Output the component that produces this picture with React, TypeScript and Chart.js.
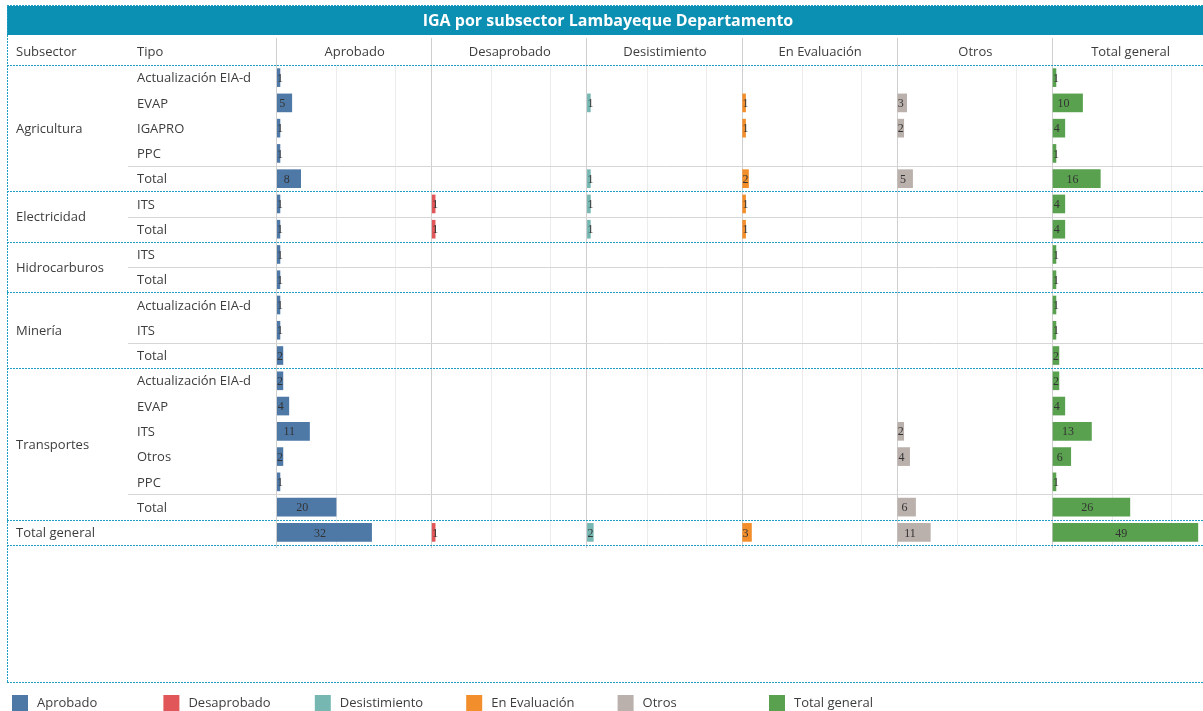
import React, { useEffect, useRef } from "react";
import { Chart, registerables } from "chart.js";

Chart.register(...registerables);

// ---------- DATA ----------
const chartTitle = "IGA por subsector Lambayeque Departamento";
const headerSubsector = "Subsector";
const headerTipo = "Tipo";
const estados = ["Aprobado", "Desaprobado", "Desistimiento", "En Evaluación", "Otros", "Total general"];
const estadoColors = ["#4e79a7", "#e15759", "#76b7b2", "#f28e2b", "#bab0ac", "#59a14f"];
const subsectors = ["Agricultura", "Electricidad", "Hidrocarburos", "Minería", "Transportes", "Total general"];
const groupSizes = [5, 2, 2, 3, 6, 1];
const tipos = [
  "Actualización EIA-d", "EVAP", "IGAPRO", "PPC", "Total",
  "ITS", "Total",
  "ITS", "Total",
  "Actualización EIA-d", "ITS", "Total",
  "Actualización EIA-d", "EVAP", "ITS", "Otros", "PPC", "Total",
  "",
];
const N = null;
const aprobado = [1, 5, 1, 1, 8, 1, 1, 1, 1, 1, 1, 2, 2, 4, 11, 2, 1, 20, 32];
const desaprobado = [N, N, N, N, N, 1, 1, N, N, N, N, N, N, N, N, N, N, N, 1];
const desistimiento = [N, 1, N, N, 1, 1, 1, N, N, N, N, N, N, N, N, N, N, N, 2];
const enEvaluacion = [N, 1, 1, N, 2, 1, 1, N, N, N, N, N, N, N, N, N, N, N, 3];
const otros = [N, 3, 2, N, 5, N, N, N, N, N, N, N, N, N, 2, 4, N, 6, 11];
const totalGeneral = [1, 10, 4, 1, 16, 4, 4, 1, 1, 1, 1, 2, 2, 4, 13, 6, 1, 26, 49];
const seriesValues = [aprobado, desaprobado, desistimiento, enEvaluacion, otros, totalGeneral];
const gridTicks = [20, 40];

// ---------- LAYOUT ----------
const W = 1203;
const H = 711;
const PANEL_SPAN = 52.5; // axis units per panel
const PLOT_LEFT = 277;
const PLOT_TOP = 65;
const PLOT_BOTTOM = 545;
const PANEL_PX = 155.2;
const X_MAX = (PANEL_SPAN * (W - PLOT_LEFT)) / PANEL_PX;
const FONT = "'Open Sans', sans-serif";
const TEXT = "#3d3d3d";
const TEAL = "#1f9dc2";

function hDotted(ctx: CanvasRenderingContext2D, x1: number, x2: number, y: number) {
  ctx.save();
  ctx.strokeStyle = TEAL;
  ctx.lineWidth = 1;
  ctx.setLineDash([2, 1]);
  ctx.beginPath();
  ctx.moveTo(x1, Math.round(y) + 0.5);
  ctx.lineTo(x2, Math.round(y) + 0.5);
  ctx.stroke();
  ctx.restore();
}
function vDotted(ctx: CanvasRenderingContext2D, x: number, y1: number, y2: number) {
  ctx.save();
  ctx.strokeStyle = TEAL;
  ctx.lineWidth = 1;
  ctx.setLineDash([2, 1]);
  ctx.beginPath();
  ctx.moveTo(Math.round(x) + 0.5, y1);
  ctx.lineTo(Math.round(x) + 0.5, y2);
  ctx.stroke();
  ctx.restore();
}
function line(ctx: CanvasRenderingContext2D, x1: number, y1: number, x2: number, y2: number, color: string) {
  ctx.save();
  ctx.strokeStyle = color;
  ctx.lineWidth = 1;
  ctx.beginPath();
  ctx.moveTo(x1, y1);
  ctx.lineTo(x2, y2);
  ctx.stroke();
  ctx.restore();
}

const tablePlugin = {
  id: "tablePlugin",
  beforeDraw(chart: any) {
    const ctx: CanvasRenderingContext2D = chart.ctx;
    const xs = chart.scales.x;
    const ys = chart.scales.y;
    ctx.save();
    ctx.fillStyle = "#ffffff";
    ctx.fillRect(0, 0, W, H);

    // title bar
    ctx.fillStyle = "#0b8fb2";
    ctx.fillRect(7, 6, W - 7, 29);
    hDotted(ctx, 7, W, 5);
    ctx.fillStyle = "#ffffff";
    ctx.font = `bold 16px ${FONT}`;
    ctx.textAlign = "center";
    ctx.textBaseline = "middle";
    ctx.fillText(chartTitle, 608, 21);

    // outer border
    vDotted(ctx, 7, 5, 683);
    hDotted(ctx, 7, W, 682);

    const rowH = ys.getPixelForValue(1) - ys.getPixelForValue(0);
    const rowTop = (i: number) => ys.getPixelForValue(i) - rowH / 2;

    // grid lines
    for (let k = 0; k < estados.length; k++) {
      for (const t of gridTicks) {
        const gx = Math.round(xs.getPixelForValue(k * PANEL_SPAN + t)) + 0.5;
        line(ctx, gx, PLOT_TOP, gx, PLOT_BOTTOM, "#ececec");
      }
    }
    for (let k = 0; k < estados.length; k++) {
      const px = Math.round(xs.getPixelForValue(k * PANEL_SPAN)) - 0.5;
      line(ctx, px, 38, px, PLOT_BOTTOM + 3, "#cfcfcf");
    }

    // headers
    ctx.font = `13px ${FONT}`;
    ctx.fillStyle = TEXT;
    ctx.textBaseline = "middle";
    ctx.textAlign = "left";
    ctx.fillText(headerSubsector, 16, 52);
    ctx.fillText(headerTipo, 137, 52);
    ctx.textAlign = "center";
    estados.forEach((e, k) => {
      const cx = (xs.getPixelForValue(k * PANEL_SPAN) + xs.getPixelForValue((k + 1) * PANEL_SPAN)) / 2;
      ctx.fillText(e, cx, 52);
    });

    // rows
    let start = 0;
    subsectors.forEach((s, g) => {
      const n = groupSizes[g];
      const yTop = rowTop(start);
      const yMid = yTop + (n * rowH) / 2;
      ctx.textAlign = "left";
      ctx.fillStyle = TEXT;
      ctx.fillText(s, 16, yMid + 1);
      for (let i = start; i < start + n; i++) {
        if (tipos[i]) ctx.fillText(tipos[i], 137, ys.getPixelForValue(i) + 1);
        if (tipos[i] === "Total") {
          const ly = Math.round(rowTop(i)) + 0.5;
          line(ctx, 128, ly, W, ly, "#d6d6d6");
        }
      }
      hDotted(ctx, 7, W, yTop);
      start += n;
    });
    hDotted(ctx, 7, W, rowTop(start));
    ctx.restore();
  },
  afterDatasetsDraw(chart: any) {
    const ctx: CanvasRenderingContext2D = chart.ctx;
    ctx.save();
    ctx.font = `12px 'Liberation Serif', serif`;
    ctx.fillStyle = "#333333";
    ctx.textBaseline = "middle";
    ctx.textAlign = "left";
    chart.data.datasets.forEach((ds: any, di: number) => {
      const meta = chart.getDatasetMeta(di);
      meta.data.forEach((el: any, i: number) => {
        const v = seriesValues[di][i];
        if (v == null) return;
        const s = String(v);
        const tw = ctx.measureText(s).width;
        const x0 = Math.min(el.base, el.x);
        const x1 = Math.max(el.base, el.x);
        const cx = (x0 + x1) / 2;
        const lx = Math.max(x0, cx - 0.85 * tw);
        ctx.fillText(s, lx, el.y + 1);
      });
    });
    ctx.restore();
  },
  afterDraw(chart: any) {
    const ctx: CanvasRenderingContext2D = chart.ctx;
    ctx.save();
    ctx.font = `13px ${FONT}`;
    ctx.textBaseline = "middle";
    ctx.textAlign = "left";
    estados.forEach((e, k) => {
      const x = 12 + k * 151.4;
      ctx.fillStyle = estadoColors[k];
      ctx.fillRect(x, 695, 16, 16);
      ctx.fillStyle = TEXT;
      ctx.fillText(e, x + 25, 703);
    });
    ctx.restore();
  },
};

export default function App() {
  const ref = useRef<HTMLCanvasElement | null>(null);
  useEffect(() => {
    if (!ref.current) return;
    const labels = tipos.map((_, i) => String(i));
    const chart = new Chart(ref.current, {
      type: "bar",
      data: {
        labels,
        datasets: estados.map((e, k) => ({
          label: e,
          data: seriesValues[k].map((v) => (v == null ? null : [k * PANEL_SPAN, k * PANEL_SPAN + v])) as any,
          backgroundColor: estadoColors[k],
          borderWidth: 0,
          barThickness: 18,
          grouped: false,
        })),
      },
      options: {
        indexAxis: "y",
        animation: false,
        responsive: false,
        maintainAspectRatio: false,
        layout: { padding: { left: PLOT_LEFT, right: 0, top: PLOT_TOP, bottom: H - PLOT_BOTTOM } },
        plugins: { legend: { display: false }, tooltip: { enabled: false }, title: { display: false } },
        scales: {
          x: { type: "linear", min: 0, max: X_MAX, display: false },
          y: { type: "category", offset: true, display: false },
        },
      },
      plugins: [tablePlugin],
    } as any);
    return () => chart.destroy();
  }, []);
  return (
    <div style={{ position: "absolute", left: 0, top: 0, width: W, height: H, background: "#fff" }}>
      <canvas ref={ref} width={W} height={H} style={{ display: "block", width: W, height: H }} />
    </div>
  );
}
